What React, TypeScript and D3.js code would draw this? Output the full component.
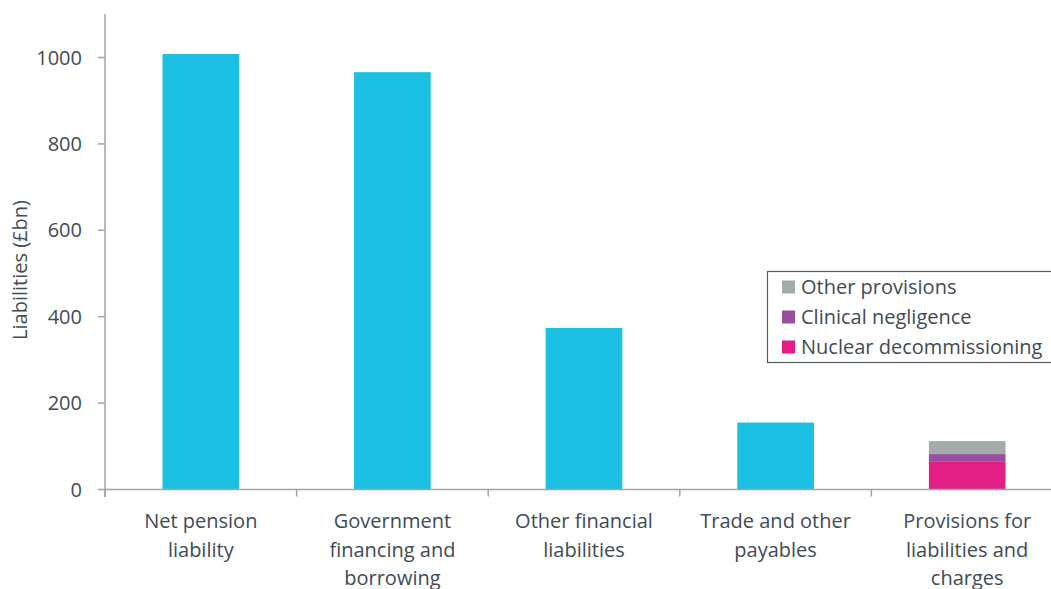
import React, { useRef, useEffect } from 'react'
import * as d3 from 'd3'

const categories = [
  ['Net  pension', 'liability'],
  ['Government', 'financing and', 'borrowing'],
  ['Other financial', 'liabilities'],
  ['Trade and other', 'payables'],
  ['Provisions for', 'liabilities and', 'charges'],
]
const mainValues = [1008, 966, 374, 155, 0]
const provisionKeys = ['Nuclear decommissioning', 'Clinical negligence', 'Other provisions']
const provisionValues = [64, 18, 30]
const provisionColors = ['#e21f84', '#984f9f', '#a3abac']
const yTicks = [0, 200, 400, 600, 800, 1000]

export default function App() {
  const svgRef = useRef<SVGSVGElement>(null)

  useEffect(() => {
    if (!svgRef.current) return
    const svg = d3.select(svgRef.current)
    svg.selectAll('*').remove()

    const W = 1051
    const left = 105, top = 14
    const textColor = '#414b56'
    const axisColor = '#a0a4a6'
    const font = "'Open Sans', sans-serif"
    const fs = 20

    const x = d3.scaleBand<number>()
      .domain(d3.range(categories.length))
      .range([left, left + 191.6 * categories.length])
      .padding(0)
    const barW = x.bandwidth() * 0.4

    const y = d3.scaleLinear().domain([0, 1000]).range([489.5, 57.5])

    // Cyan bars
    svg.append('g')
      .selectAll('rect')
      .data(mainValues.map((v, i) => ({ v, i })).filter(d => d.v > 0))
      .join('rect')
      .attr('x', d => x(d.i)! + (x.bandwidth() - barW) / 2)
      .attr('y', d => y(d.v))
      .attr('width', barW)
      .attr('height', d => y(0) - y(d.v))
      .attr('fill', '#1cc0e2')

    // Stacked provisions
    const pi = categories.length - 1
    let acc = 0
    provisionValues.forEach((v, k) => {
      svg.append('rect')
        .attr('x', x(pi)! + (x.bandwidth() - barW) / 2)
        .attr('y', y(acc + v))
        .attr('width', barW)
        .attr('height', y(acc) - y(acc + v))
        .attr('fill', provisionColors[k])
      acc += v
    })

    // Y axis
    svg.append('line')
      .attr('x1', left).attr('x2', left)
      .attr('y1', top).attr('y2', 497)
      .attr('stroke', axisColor).attr('stroke-width', 1.5)
    svg.append('g').selectAll('line')
      .data(yTicks).join('line')
      .attr('x1', left - 7).attr('x2', left)
      .attr('y1', d => y(d)).attr('y2', d => y(d))
      .attr('stroke', axisColor).attr('stroke-width', 1.5)
    svg.append('g').selectAll('text')
      .data(yTicks).join('text')
      .attr('x', 82).attr('y', d => y(d))
      .attr('dy', '0.35em')
      .attr('text-anchor', 'end')
      .attr('font-family', font).attr('font-size', fs)
      .attr('fill', textColor)
      .text(d => d)

    svg.append('text')
      .attr('transform', `translate(27,270) rotate(-90)`)
      .attr('text-anchor', 'middle')
      .attr('font-family', font).attr('font-size', fs)
      .attr('fill', textColor)
      .text('Liabilities (£bn)')

    // X axis
    svg.append('line')
      .attr('x1', left).attr('x2', W)
      .attr('y1', y(0)).attr('y2', y(0))
      .attr('stroke', axisColor).attr('stroke-width', 1.5)
    svg.append('g').selectAll('line')
      .data(d3.range(categories.length))
      .join('line')
      .attr('x1', d => x(d)!).attr('x2', d => x(d)!)
      .attr('y1', y(0)).attr('y2', y(0) + 7)
      .attr('stroke', axisColor).attr('stroke-width', 1.5)

    const labels = svg.append('g')
    categories.forEach((lines, i) => {
      const t = labels.append('text')
        .attr('text-anchor', 'middle')
        .attr('font-family', font).attr('font-size', fs)
        .attr('fill', textColor)
      lines.forEach((ln, j) => {
        t.append('tspan')
          .attr('x', x(i)! + x.bandwidth() / 2)
          .attr('y', 528 + j * 28.5)
          .text(ln)
      })
    })

    // Legend
    const lg = svg.append('g')
    lg.append('rect')
      .attr('x', 767.5).attr('y', 271.5)
      .attr('width', 300).attr('height', 91)
      .attr('fill', '#fff').attr('stroke', '#555b60').attr('stroke-width', 1.2)
    const order = [2, 1, 0]
    order.forEach((k, r) => {
      const cy = 287 + r * 30
      lg.append('rect')
        .attr('x', 782).attr('y', cy - 6.5)
        .attr('width', 13).attr('height', 13)
        .attr('fill', provisionColors[k])
      lg.append('text')
        .attr('x', 801).attr('y', cy)
        .attr('dy', '0.35em')
        .attr('font-family', font).attr('font-size', fs)
        .attr('fill', textColor)
        .text(provisionKeys[k])
    })
  }, [])

  return (
    <svg ref={svgRef} width={1051} height={589}
      style={{ position: 'fixed', left: 0, top: 0, background: '#fff' }} />
  )
}
